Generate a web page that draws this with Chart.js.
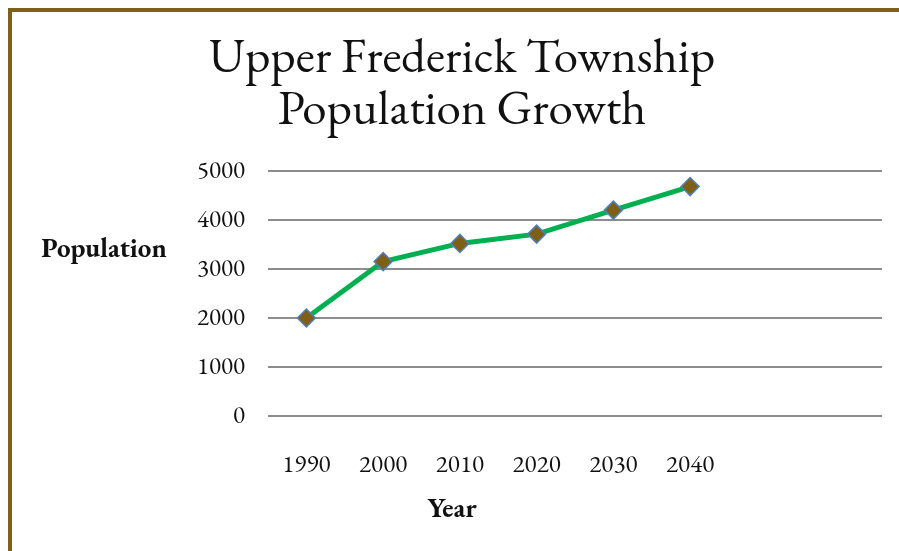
<!DOCTYPE html>
<html>
<head>
<meta charset="utf-8">
<script src="https://cdn.jsdelivr.net/npm/chart.js@4/dist/chart.umd.min.js"></script>
<style>
  html, body { margin: 0; padding: 0; background: #ffffff; overflow: hidden; }
  #wrap { position: relative; width: 899px; height: 551px; }
  #frame { position: absolute; left: 8px; top: 8px; width: 1200px; height: 1200px;
           border: 4px solid #7E6019; box-sizing: border-box; }
  #c { position: absolute; left: 0; top: 0; }
</style>
</head>
<body>
<div id="wrap">
  <div id="frame"></div>
  <canvas id="c" width="899" height="551"></canvas>
</div>
<script>
const titleLines = ['Upper Frederick Township', 'Population Growth'];
const yAxisTitle = 'Population';
const xAxisTitle = 'Year';
const categories = ['1990', '2000', '2010', '2020', '2030', '2040', '', ''];
const population = [2000, 3150, 3520, 3710, 4200, 4680, null, null];
const yTicks = [0, 1000, 2000, 3000, 4000, 5000];

const SERIF = "'EB Garamond', Garamond, 'Liberation Serif', 'Times New Roman', serif";

const axisTitlePlugin = {
  id: 'axisTitlePlugin',
  afterDraw(chart) {
    const ctx = chart.ctx;
    ctx.save();
    ctx.font = 'bold 27px ' + SERIF;
    ctx.fillStyle = '#111';
    ctx.textAlign = 'center';
    ctx.textBaseline = 'middle';
    ctx.fillText(yAxisTitle, 104, 250);
    ctx.fillText(xAxisTitle, 452, 510);
    ctx.restore();
  }
};

new Chart(document.getElementById('c'), {
  type: 'line',
  data: {
    labels: categories,
    datasets: [{
      label: 'Population',
      data: population,
      borderColor: '#00B050',
      borderWidth: 5,
      tension: 0,
      pointStyle: 'rectRot',
      pointRadius: 9,
      pointHoverRadius: 9,
      pointBackgroundColor: '#7F5F16',
      pointBorderColor: '#4F81BD',
      pointBorderWidth: 1.5,
      spanGaps: false
    }]
  },
  options: {
    responsive: false,
    animation: false,
    events: [],
    layout: { padding: { left: 42, right: 17, top: 0, bottom: 0 } },
    plugins: {
      legend: { display: false },
      tooltip: { enabled: false },
      title: {
        display: true,
        text: titleLines,
        color: '#111',
        font: { family: SERIF, size: 49, weight: 'normal', lineHeight: 1.06 },
        padding: { top: 33, bottom: 34 }
      }
    },
    scales: {
      x: {
        type: 'category',
        offset: true,
        grid: { display: false, drawTicks: false },
        border: { display: false },
        ticks: {
          color: '#111',
          font: { family: SERIF, size: 25 },
          padding: 34,
          maxRotation: 0,
          autoSkip: false
        },
        afterFit(scale) { scale.height = 135; }
      },
      y: {
        min: 0,
        max: 5000,
        afterBuildTicks(scale) { scale.ticks = yTicks.map(v => ({ value: v })); },
        grid: { color: '#8C8C8C', lineWidth: 2, drawTicks: false },
        border: { display: false },
        ticks: {
          color: '#111',
          font: { family: SERIF, size: 25 },
          padding: 23,
          callback: (v) => String(v)
        },
        afterFit(scale) { scale.width = 226; }
      }
    }
  },
  plugins: [axisTitlePlugin]
});
</script>
</body>
</html>
